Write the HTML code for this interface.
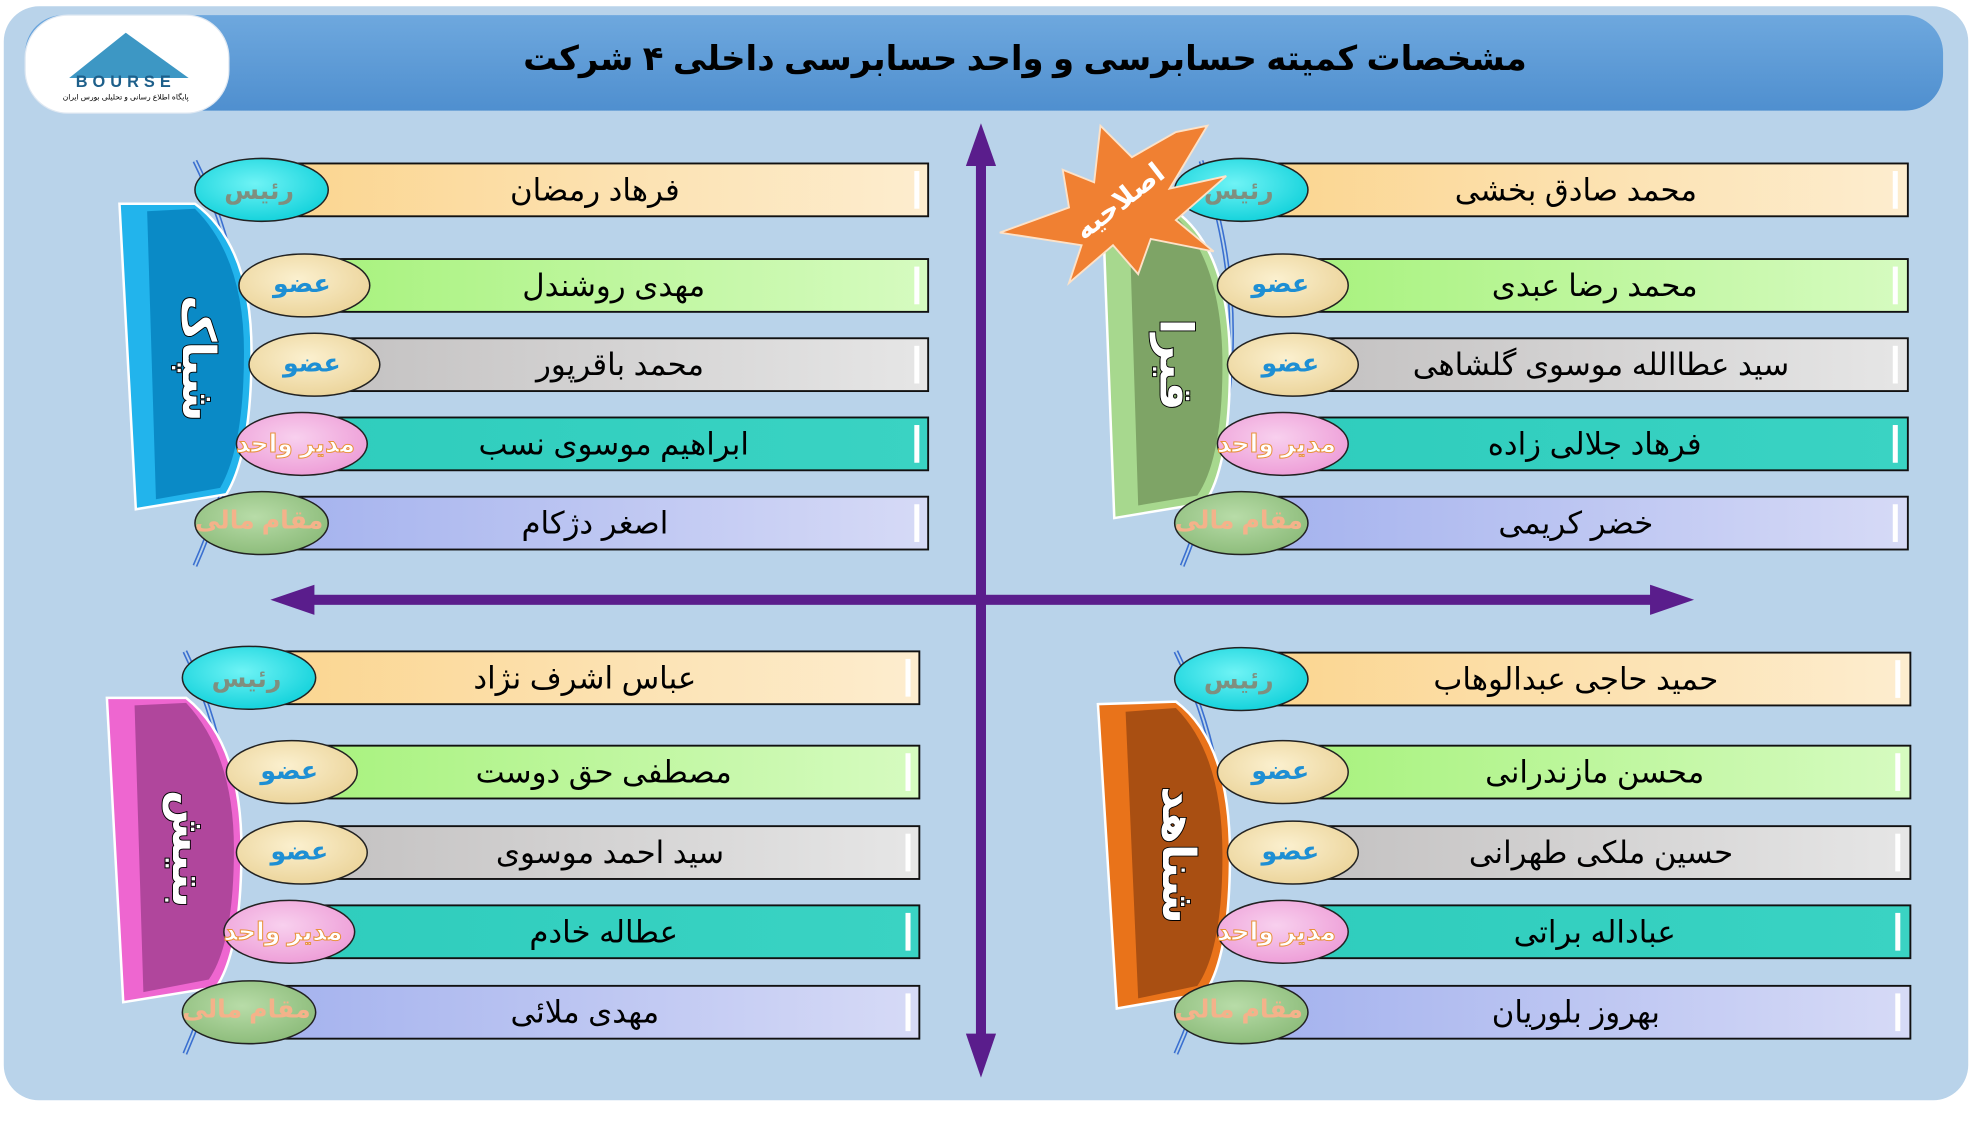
<!DOCTYPE html>
<html><head><meta charset="utf-8">
<style>
html,body{margin:0;padding:0;background:#fff;width:1972px;height:1138px;overflow:hidden}
svg{display:block}
text{font-family:"Liberation Sans","Noto Sans CJK SC","DejaVu Sans",sans-serif}
.nm{font-size:24.5px;fill:#000;text-anchor:middle;dominant-baseline:central;direction:rtl}
.lb{font-size:20px;font-weight:bold;text-anchor:middle;dominant-baseline:central;direction:rtl}
.co{font-size:36px;font-weight:bold;fill:#fff;stroke:#000;stroke-width:1.5;paint-order:stroke;text-anchor:middle;dominant-baseline:central;direction:rtl}
</style></head><body>
<svg width="1972" height="1138" viewBox="0 0 1568 905" preserveAspectRatio="none" xmlns="http://www.w3.org/2000/svg">
<defs>
<linearGradient id="hdr" x1="0" y1="0" x2="0" y2="1"><stop offset="0" stop-color="#6ea8de"/><stop offset="1" stop-color="#4f8fcf"/></linearGradient>
<linearGradient id="b1" x1="0" y1="0" x2="1" y2="0"><stop offset="0" stop-color="#fbd58f"/><stop offset="1" stop-color="#fdedcf"/></linearGradient>
<linearGradient id="b2" x1="0" y1="0" x2="1" y2="0"><stop offset="0" stop-color="#a8f27e"/><stop offset="1" stop-color="#d6fbc0"/></linearGradient>
<linearGradient id="b3" x1="0" y1="0" x2="1" y2="0"><stop offset="0" stop-color="#c4c2c2"/><stop offset="1" stop-color="#e6e6e6"/></linearGradient>
<linearGradient id="b4" x1="0" y1="0" x2="1" y2="0"><stop offset="0" stop-color="#2fcdbd"/><stop offset="1" stop-color="#3ad3c3"/></linearGradient>
<linearGradient id="b5" x1="0" y1="0" x2="1" y2="0"><stop offset="0" stop-color="#a4b2ee"/><stop offset="1" stop-color="#d6daf6"/></linearGradient>
<radialGradient id="o1" cx=".45" cy=".4" r=".6"><stop offset="0" stop-color="#6ff3f5"/><stop offset="1" stop-color="#16d3dc"/></radialGradient>
<radialGradient id="o2" cx=".45" cy=".4" r=".6"><stop offset="0" stop-color="#fbf0cf"/><stop offset="1" stop-color="#ecd59c"/></radialGradient>
<radialGradient id="o4" cx=".45" cy=".4" r=".6"><stop offset="0" stop-color="#f8d0ee"/><stop offset="1" stop-color="#ee9fd8"/></radialGradient>
<radialGradient id="o5" cx=".45" cy=".4" r=".6"><stop offset="0" stop-color="#b8dca8"/><stop offset="1" stop-color="#8ebd7c"/></radialGradient>
</defs>
<rect x="3" y="5" width="1562" height="870" rx="28" fill="#b9d3ea"/>
<rect x="20" y="12" width="1525" height="76" rx="30" fill="url(#hdr)"/>
<text x="815" y="47" font-size="27" font-weight="bold" text-anchor="middle" dominant-baseline="central" direction="rtl" fill="#000">مشخصات کمیته حسابرسی و واحد حسابرسی داخلی ۴ شرکت</text>
<rect x="20" y="12" width="162" height="78" rx="34" fill="#fff" stroke="#dfe8f2"/>
<polygon points="55,62 100,26 150,62" fill="#3d97c4"/>
<text x="100" y="69" font-size="13" font-weight="bold" text-anchor="middle" fill="#1d5f8a" letter-spacing="4">BOURSE</text>
<text x="100" y="79" font-size="6" text-anchor="middle" fill="#000" direction="rtl">پایگاه اطلاع رسانی و تحلیلی بورس ایران</text>
<g fill="#5a1d8c">
<rect x="776" y="120" width="8" height="712"/>
<polygon points="780,98 768,132 792,132"/>
<polygon points="780,857 768,822 792,822"/>
<rect x="238" y="473" width="1085" height="8"/>
<polygon points="215,477 250,465 250,489"/>
<polygon points="1347,477 1312,465 1312,489"/>
</g>

<!-- ===== TR ===== -->
<path d="M955 128 Q1010 280 940 450" fill="none" stroke="#3a6fd0" stroke-width="4"/><path d="M955 128 Q1010 280 940 450" fill="none" stroke="#b9d3ea" stroke-width="1.5"/>
<g stroke="#111" stroke-width="1.5">
<rect x="1000" y="130" width="517" height="42" fill="url(#b1)"/>
<rect x="1040" y="206" width="477" height="42" fill="url(#b2)"/>
<rect x="1050" y="269" width="467" height="42" fill="url(#b3)"/>
<rect x="1040" y="332" width="477" height="42" fill="url(#b4)"/>
<rect x="1000" y="395" width="517" height="42" fill="url(#b5)"/>
</g>
<g fill="#fff"><rect x="1505" y="136" width="4" height="30"/><rect x="1505" y="212" width="4" height="30"/><rect x="1505" y="275" width="4" height="30"/><rect x="1505" y="338" width="4" height="30"/><rect x="1505" y="401" width="4" height="30"/></g>
<text class="nm" x="1253" y="151">محمد صادق بخشی</text>
<text class="nm" x="1268" y="227">محمد رضا عبدی</text>
<text class="nm" x="1273" y="290">سید عطاالله موسوی گلشاهی</text>
<text class="nm" x="1268" y="353">فرهاد جلالی زاده</text>
<text class="nm" x="1253" y="416">خضر کریمی</text>
<path d="M877 172 L935 168 Q978 200 978 290 Q978 370 958 400 L886 412 Z" fill="#a7d88e" stroke="#fff" stroke-width="2"/>
<path d="M898 178 L935 172 Q972 210 972 290 Q972 365 952 394 L905 402 Z" fill="#7ea466"/>
<text class="co" transform="translate(935,290) rotate(90)">قیرا</text>
<g stroke="#222" stroke-width="1.2">
<ellipse cx="987" cy="151" rx="53" ry="25" fill="url(#o1)"/>
<ellipse cx="1020" cy="227" rx="52" ry="25" fill="url(#o2)"/>
<ellipse cx="1028" cy="290" rx="52" ry="25" fill="url(#o2)"/>
<ellipse cx="1020" cy="353" rx="52" ry="25" fill="url(#o4)"/>
<ellipse cx="987" cy="416" rx="53" ry="25" fill="url(#o5)"/>
</g>
<text class="lb" x="985" y="152" fill="#7f8f7f" font-size="24">رئیس</text>
<text class="lb" x="1018" y="226" fill="#1e8fd4" font-size="24">عضو</text>
<text class="lb" x="1026" y="289" fill="#1e8fd4" font-size="24">عضو</text>
<text class="lb" x="1015" y="353" fill="#fff" stroke="#e8923a" stroke-width=".8">مدیر واحد</text>
<text class="lb" x="985" y="414" fill="#f4b28a">مقام مالی</text>
<polygon points="960,100 930,150 975,140 935,175 965,200 915,190 905,218 885,195 850,225 860,195 795,185 850,165 845,135 870,145 875,100 900,125 935,105" fill="#f08032" stroke="#fde2c8" stroke-width="1.5"/>
<text transform="translate(890,160) rotate(-38)" font-size="22" font-weight="bold" fill="#fff" text-anchor="middle" dominant-baseline="central" direction="rtl">اصلاحیه</text>

<!-- ===== TL ===== -->
<path d="M155 128 Q230 280 155 450" fill="none" stroke="#3a6fd0" stroke-width="4"/><path d="M155 128 Q230 280 155 450" fill="none" stroke="#b9d3ea" stroke-width="1.5"/>
<g stroke="#111" stroke-width="1.5">
<rect x="220" y="130" width="518" height="42" fill="url(#b1)"/>
<rect x="260" y="206" width="478" height="42" fill="url(#b2)"/>
<rect x="270" y="269" width="468" height="42" fill="url(#b3)"/>
<rect x="260" y="332" width="478" height="42" fill="url(#b4)"/>
<rect x="220" y="395" width="518" height="42" fill="url(#b5)"/>
</g>
<g fill="#fff"><rect x="727" y="136" width="4" height="30"/><rect x="727" y="212" width="4" height="30"/><rect x="727" y="275" width="4" height="30"/><rect x="727" y="338" width="4" height="30"/><rect x="727" y="401" width="4" height="30"/></g>
<text class="nm" x="473" y="151">فرهاد رمضان</text>
<text class="nm" x="488" y="227">مهدی روشندل</text>
<text class="nm" x="493" y="290">محمد باقرپور</text>
<text class="nm" x="488" y="353">ابراهیم موسوی نسب</text>
<text class="nm" x="473" y="416">اصغر دژکام</text>
<path d="M95 162 L155 162 Q200 195 200 280 Q200 360 180 393 L108 405 Z" fill="#22b4ec" stroke="#fff" stroke-width="2"/>
<path d="M117 168 L155 166 Q194 205 194 280 Q194 355 175 388 L124 397 Z" fill="#0a8ac6"/>
<text class="co" transform="translate(158,285) rotate(90)">شپاک</text>
<g stroke="#222" stroke-width="1.2">
<ellipse cx="208" cy="151" rx="53" ry="25" fill="url(#o1)"/>
<ellipse cx="242" cy="227" rx="52" ry="25" fill="url(#o2)"/>
<ellipse cx="250" cy="290" rx="52" ry="25" fill="url(#o2)"/>
<ellipse cx="240" cy="353" rx="52" ry="25" fill="url(#o4)"/>
<ellipse cx="208" cy="416" rx="53" ry="25" fill="url(#o5)"/>
</g>
<text class="lb" x="206" y="152" fill="#7f8f7f" font-size="24">رئیس</text>
<text class="lb" x="240" y="226" fill="#1e8fd4" font-size="24">عضو</text>
<text class="lb" x="248" y="289" fill="#1e8fd4" font-size="24">عضو</text>
<text class="lb" x="235" y="353" fill="#fff" stroke="#e8923a" stroke-width=".8">مدیر واحد</text>
<text class="lb" x="206" y="414" fill="#f4b28a">مقام مالی</text>

<!-- ===== BR ===== -->
<path d="M935 518 Q1010 670 935 838" fill="none" stroke="#3a6fd0" stroke-width="4"/><path d="M935 518 Q1010 670 935 838" fill="none" stroke="#b9d3ea" stroke-width="1.5"/>
<g stroke="#111" stroke-width="1.5">
<rect x="1000" y="519" width="519" height="42" fill="url(#b1)"/>
<rect x="1040" y="593" width="479" height="42" fill="url(#b2)"/>
<rect x="1050" y="657" width="469" height="42" fill="url(#b3)"/>
<rect x="1040" y="720" width="479" height="42" fill="url(#b4)"/>
<rect x="1000" y="784" width="519" height="42" fill="url(#b5)"/>
</g>
<g fill="#fff"><rect x="1507" y="525" width="4" height="30"/><rect x="1507" y="599" width="4" height="30"/><rect x="1507" y="663" width="4" height="30"/><rect x="1507" y="726" width="4" height="30"/><rect x="1507" y="790" width="4" height="30"/></g>
<text class="nm" x="1253" y="540">حمید حاجی عبدالوهاب</text>
<text class="nm" x="1268" y="614">محسن مازندرانی</text>
<text class="nm" x="1273" y="678">حسین ملکی طهرانی</text>
<text class="nm" x="1268" y="741">عباداله براتی</text>
<text class="nm" x="1253" y="805">بهروز بلوریان</text>
<path d="M873 560 L935 558 Q978 590 978 680 Q978 760 958 790 L888 802 Z" fill="#e9731a" stroke="#fff" stroke-width="2"/>
<path d="M895 566 L935 563 Q972 600 972 680 Q972 755 952 784 L905 794 Z" fill="#a94f12"/>
<text class="co" transform="translate(937,680) rotate(90)">شناهد</text>
<g stroke="#222" stroke-width="1.2">
<ellipse cx="987" cy="540" rx="53" ry="25" fill="url(#o1)"/>
<ellipse cx="1020" cy="614" rx="52" ry="25" fill="url(#o2)"/>
<ellipse cx="1028" cy="678" rx="52" ry="25" fill="url(#o2)"/>
<ellipse cx="1020" cy="741" rx="52" ry="25" fill="url(#o4)"/>
<ellipse cx="987" cy="805" rx="53" ry="25" fill="url(#o5)"/>
</g>
<text class="lb" x="985" y="541" fill="#7f8f7f" font-size="24">رئیس</text>
<text class="lb" x="1018" y="613" fill="#1e8fd4" font-size="24">عضو</text>
<text class="lb" x="1026" y="677" fill="#1e8fd4" font-size="24">عضو</text>
<text class="lb" x="1015" y="741" fill="#fff" stroke="#e8923a" stroke-width=".8">مدیر واحد</text>
<text class="lb" x="985" y="803" fill="#f4b28a">مقام مالی</text>

<!-- ===== BL ===== -->
<path d="M147 518 Q220 670 147 838" fill="none" stroke="#3a6fd0" stroke-width="4"/><path d="M147 518 Q220 670 147 838" fill="none" stroke="#b9d3ea" stroke-width="1.5"/>
<g stroke="#111" stroke-width="1.5">
<rect x="210" y="518" width="521" height="42" fill="url(#b1)"/>
<rect x="250" y="593" width="481" height="42" fill="url(#b2)"/>
<rect x="260" y="657" width="471" height="42" fill="url(#b3)"/>
<rect x="250" y="720" width="481" height="42" fill="url(#b4)"/>
<rect x="210" y="784" width="521" height="42" fill="url(#b5)"/>
</g>
<g fill="#fff"><rect x="720" y="524" width="4" height="30"/><rect x="720" y="599" width="4" height="30"/><rect x="720" y="663" width="4" height="30"/><rect x="720" y="726" width="4" height="30"/><rect x="720" y="790" width="4" height="30"/></g>
<text class="nm" x="465" y="539">عباس اشرف نژاد</text>
<text class="nm" x="480" y="614">مصطفی حق دوست</text>
<text class="nm" x="485" y="678">سید احمد موسوی</text>
<text class="nm" x="480" y="741">عطاله خادم</text>
<text class="nm" x="465" y="805">مهدی ملائی</text>
<path d="M85 555 L148 555 Q192 590 192 675 Q192 755 172 785 L98 797 Z" fill="#ee66d0" stroke="#fff" stroke-width="2"/>
<path d="M107 561 L148 559 Q186 600 186 675 Q186 750 166 779 L114 789 Z" fill="#b0469c"/>
<text class="co" transform="translate(150,675) rotate(90)">بتیش</text>
<g stroke="#222" stroke-width="1.2">
<ellipse cx="198" cy="539" rx="53" ry="25" fill="url(#o1)"/>
<ellipse cx="232" cy="614" rx="52" ry="25" fill="url(#o2)"/>
<ellipse cx="240" cy="678" rx="52" ry="25" fill="url(#o2)"/>
<ellipse cx="230" cy="741" rx="52" ry="25" fill="url(#o4)"/>
<ellipse cx="198" cy="805" rx="53" ry="25" fill="url(#o5)"/>
</g>
<text class="lb" x="196" y="540" fill="#7f8f7f" font-size="24">رئیس</text>
<text class="lb" x="230" y="613" fill="#1e8fd4" font-size="24">عضو</text>
<text class="lb" x="238" y="677" fill="#1e8fd4" font-size="24">عضو</text>
<text class="lb" x="225" y="741" fill="#fff" stroke="#e8923a" stroke-width=".8">مدیر واحد</text>
<text class="lb" x="196" y="803" fill="#f4b28a">مقام مالی</text>
</svg>
</body></html>
